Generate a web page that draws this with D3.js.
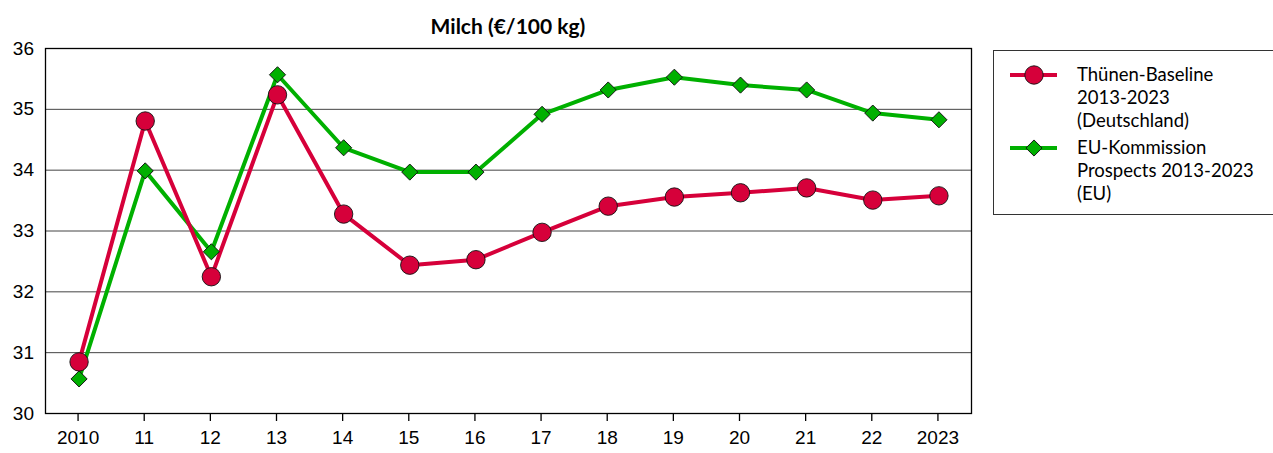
<!DOCTYPE html>
<html>
<head>
<meta charset="utf-8">
<script src="https://cdn.jsdelivr.net/npm/d3@7"></script>
<style>
  html, body { margin: 0; padding: 0; background: #fff; }
  svg { display: block; font-family: Lato, "Open Sans", "Liberation Sans", sans-serif; }
</style>
</head>
<body>
<svg id="chart" width="1273" height="453"></svg>
<script>
// Milk price outlook, €/100 kg
const years = ["2010", "11", "12", "13", "14", "15", "16", "17", "18", "19", "20", "21", "22", "2023"];
const thuenen = [30.84, 34.80, 32.24, 35.23, 33.27, 32.43, 32.52, 32.97, 33.40, 33.55, 33.62, 33.70, 33.50, 33.57];
const euKommission = [30.56, 33.98, 32.65, 35.56, 34.36, 33.96, 33.96, 34.91, 35.31, 35.52, 35.39, 35.31, 34.93, 34.82];
const yTicks = [30, 31, 32, 33, 34, 35, 36];
const seriesNames = [
  ["Thünen-Baseline", "2013-2023", "(Deutschland)"],
  ["EU-Kommission", "Prospects 2013-2023", "(EU)"]
];

const svg = d3.select("#chart");
const plot = { left: 45, right: 971, top: 48, bottom: 413 };

const x = d3.scaleBand().domain(years).range([plot.left, plot.right]);
const y = d3.scaleLinear().domain([30, 36]).range([plot.bottom, plot.top]);
const cx = d => x(d) + x.bandwidth() / 2 + 1;

const RED = "#d6003a";
const GREEN = "#00b000";

// title
svg.append("text")
  .attr("x", 508).attr("y", 34)
  .attr("text-anchor", "middle")
  .attr("font-size", 21).attr("font-weight", "bold")
  .text("Milch (€/100 kg)");

// horizontal gridlines
svg.append("g").selectAll("line").data(yTicks.slice(1, -1)).join("line")
  .attr("x1", plot.left).attr("x2", plot.right)
  .attr("y1", d => y(d) + 0.5).attr("y2", d => y(d) + 0.5)
  .attr("stroke", "#444").attr("stroke-width", 1);

// y axis labels
const yAxis = d3.axisLeft(y).tickValues(yTicks).tickSize(0).tickPadding(11).tickFormat(d3.format("d"));
svg.append("g").attr("transform", `translate(${plot.left},0)`).call(yAxis)
  .call(g => g.select(".domain").remove())
  .call(g => g.selectAll("text").attr("font-size", 19).attr("fill", "#000").attr("font-family", null));

// x axis with outer ticks
const xAxis = d3.axisBottom(x).tickSize(8).tickPadding(10);
svg.append("g").attr("transform", `translate(0,${plot.bottom})`).call(xAxis)
  .call(g => g.select(".domain").remove())
  .call(g => g.selectAll("line").attr("stroke", "#000").attr("stroke-width", 1.3))
  .call(g => g.selectAll("text").attr("font-size", 19).attr("fill", "#000").attr("font-family", null));

// plot frame
svg.append("rect")
  .attr("x", plot.left + 0.5).attr("y", plot.top + 0.5)
  .attr("width", plot.right - plot.left).attr("height", plot.bottom - plot.top)
  .attr("fill", "none").attr("stroke", "#000").attr("stroke-width", 1.3);

const line = d3.line().x((d, i) => cx(years[i])).y(d => y(d));
const diamond = d3.symbol().type(d3.symbolSquare).size(130);

// EU series
svg.append("path").datum(euKommission)
  .attr("d", line).attr("fill", "none")
  .attr("stroke", GREEN).attr("stroke-width", 4).attr("stroke-linejoin", "round");

// Thünen series
svg.append("path").datum(thuenen)
  .attr("d", line).attr("fill", "none")
  .attr("stroke", RED).attr("stroke-width", 4).attr("stroke-linejoin", "round");

svg.append("g").selectAll("path").data(euKommission).join("path")
  .attr("d", diamond)
  .attr("transform", (d, i) => `translate(${cx(years[i])},${y(d)}) rotate(45)`)
  .attr("fill", GREEN).attr("stroke", "#111").attr("stroke-width", 0.9);

svg.append("g").selectAll("circle").data(thuenen).join("circle")
  .attr("cx", (d, i) => cx(years[i])).attr("cy", d => y(d))
  .attr("r", 9.2)
  .attr("fill", RED).attr("stroke", "#111").attr("stroke-width", 0.9);

// legend
const lg = svg.append("g");
lg.append("rect")
  .attr("x", 993.5).attr("y", 50.5).attr("width", 290).attr("height", 164)
  .attr("fill", "#fff").attr("stroke", "#333").attr("stroke-width", 1);

const legendRows = [
  { color: RED, kind: "circle", y0: 75, lines: seriesNames[0] },
  { color: GREEN, kind: "diamond", y0: 148, lines: seriesNames[1] }
];
legendRows.forEach(r => {
  lg.append("line")
    .attr("x1", 1010).attr("x2", 1057).attr("y1", r.y0).attr("y2", r.y0)
    .attr("stroke", r.color).attr("stroke-width", 4);
  if (r.kind === "circle") {
    lg.append("circle").attr("cx", 1034).attr("cy", r.y0).attr("r", 9.2)
      .attr("fill", r.color).attr("stroke", "#111").attr("stroke-width", 0.9);
  } else {
    lg.append("path").attr("d", diamond)
      .attr("transform", `translate(1034,${r.y0}) rotate(45)`)
      .attr("fill", r.color).attr("stroke", "#111").attr("stroke-width", 0.9);
  }
  r.lines.forEach((t, i) => {
    lg.append("text")
      .attr("x", 1077).attr("y", r.y0 + i * 23 + 6)
      .attr("font-size", 18.5).attr("fill", "#000")
      .text(t);
  });
});
</script>
</body>
</html>
